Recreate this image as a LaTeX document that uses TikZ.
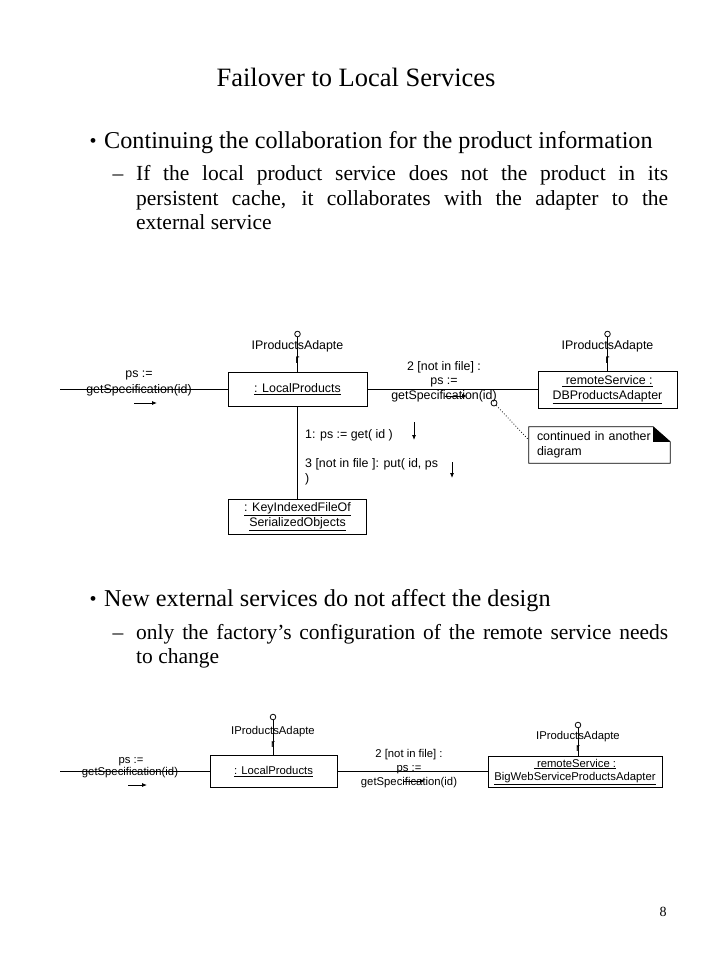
\documentclass[tikz,border=0pt]{standalone}
\usepackage{fontspec}
\setmainfont{Liberation Serif}
\newfontfamily\arialf{Liberation Sans}
\usetikzlibrary{arrows.meta}
\newcommand{\dAf}{\arialf\fontsize{12.4}{15}\selectfont}
\newcommand{\dBf}{\arialf\fontsize{11.3}{13.5}\selectfont}
\begin{document}
\begin{tikzpicture}[x=1pt,y=-1pt,
  ttl/.style={font=\fontsize{26.5}{30}\selectfont, inner sep=0pt, anchor=base},
  bul/.style={font=\fontsize{24.2}{28}\selectfont, inner sep=0pt, anchor=base west},
  bdot/.style={font=\fontsize{20}{24}\selectfont, inner sep=0pt, anchor=base},
  sub/.style={font=\fontsize{21.5}{24}\selectfont, inner sep=0pt, anchor=base west},
  dA/.style={font=\dAf, inner sep=0pt, anchor=base},
  dAw/.style={font=\dAf, inner sep=0pt, anchor=base west},
  dB/.style={font=\dBf, inner sep=0pt, anchor=base},
  umlbox/.style={draw, line width=0.8pt, inner sep=0pt, align=center},
  conn/.style={line width=0.8pt},
  msg/.style={line width=0.8pt, -{Latex[length=5pt,width=4pt]}},
  lolli/.style={draw, circle, line width=0.8pt, minimum size=5.6pt, inner sep=0pt}]
\useasboundingbox (0,0) rectangle (720,960);
\fill[white] (0,0) rectangle (720,960);

% ---------- text ----------
\node[ttl] (title) at (356,87) {Failover to Local Services};
\node[bdot] (b1) at (93,148) {•};
\node[bul] (t1) at (104,149) {Continuing the collaboration for the product information};
\node[font=\fontsize{21.5}{24}\selectfont, inner sep=0pt, anchor=base] (d1) at (118,181) {–};
\node[sub] (s1a) at (136,181) {\makebox[532pt][s]{If the local product service does not the product in its}};
\node[sub] (s1b) at (136,205) {\makebox[532pt][s]{persistent cache, it collaborates with the adapter to the}};
\node[sub] (s1c) at (136,229) {external service};

\node[bdot] (b2) at (93,605) {•};
\node[bul] (t2) at (104,606) {New external services do not affect the design};
\node[font=\fontsize{21.5}{24}\selectfont, inner sep=0pt, anchor=base] (d2) at (118,639) {–};
\node[sub] (s2a) at (136,639) {\makebox[532pt][s]{only the factory’s configuration of the remote service needs}};
\node[sub] (s2b) at (136,663) {to change};

\node[font=\fontsize{14}{16}\selectfont, inner sep=0pt, anchor=base] (pg) at (663,916) {8};

% ---------- diagram 1 ----------
\node[umlbox, font=\dAf, minimum width=139pt, minimum height=34pt] (lp1) at (297.5,389) {\underline{: LocalProducts}};
\node[umlbox, font=\dAf, minimum width=139pt, minimum height=37pt] (rs1) at (607.5,389.5) {\underline{ remoteService :}\\\underline{DBProductsAdapter}};
\node[umlbox, font=\dAf, minimum width=138pt, minimum height=35pt] (kf1) at (297.5,516.5) {\underline{: KeyIndexedFileOf}\\\underline{SerializedObjects}};

% interfaces
\node[lolli] (i1) at (297.5,334) {};
\node[dA] (i1t) at (297.5,349.5) {IProductsAdapte};
\node[dA] (i1r) at (297.5,363) {r};
\draw[conn] (i1.south) -- (i1.south |- lp1.north);
\node[lolli] (i2) at (607.5,334) {};
\node[dA] (i2t) at (607.5,349.5) {IProductsAdapte};
\node[dA] (i2r) at (607.5,363) {r};
\draw[conn] (i2.south) -- (i2.south |- rs1.north);

% incoming message
\coordinate (e1) at (60,389);
\draw[conn] (e1) -- (lp1.west);
\node[dA] (m0a) at (139,377.5) {ps :=};
\node[dA] (m0b) at (139,393.5) {getSpecification(id)};
\coordinate (a0s) at (134,403);
\coordinate (a0e) at (157,403);
\draw[msg] (a0s) -- (a0e);

% message 2
\draw[conn] (lp1.east) -- (lp1.east -| rs1.west);
\node[dA] (m2a) at (444,370.5) {2 [not in file] :};
\node[dA] (m2b) at (444,384.5) {ps :=};
\node[dA] (m2c) at (444,399.5) {getSpecification(id)};
\coordinate (a2s) at (445,396);
\coordinate (a2e) at (467,396);
\draw[msg] (a2s) -- (a2e);

% note
\node[lolli, minimum size=6pt] (nc) at (494,403) {};
\node[font=\dAf, inner xsep=8pt, inner ysep=2pt, text width=125pt, align=left, minimum height=36pt] (note) at (599.5,445) {continued in another\\diagram};
\draw[conn] (note.north west) -- ([xshift=-17pt]note.north east) -- ([yshift=-15pt]note.north east) -- (note.south east) -- (note.south west) -- cycle;
\fill ([xshift=-17pt]note.north east) -- ([yshift=-15pt]note.north east) -- ([xshift=-17pt,yshift=-15pt]note.north east) -- cycle;
\draw[dotted, line width=0.8pt] (nc) -- ([yshift=5pt]note.west);

% messages 1 and 3
\draw[conn] (lp1.south) -- (lp1.south |- kf1.north);
\node[dAw] (m1) at (305,438.5) {1: ps := get( id )};
\coordinate (a1s) at (414,422);
\coordinate (a1e) at (414,440);
\draw[msg] (a1s) -- (a1e);
\node[dAw] (m3a) at (305,467.5) {3 [not in file ]: put( id, ps};
\node[dAw] (m3b) at (305,482.5) {)};
\coordinate (a3s) at (452,462);
\coordinate (a3e) at (452,478);
\draw[msg] (a3s) -- (a3e);

% ---------- diagram 2 ----------
\node[umlbox, font=\dBf, minimum width=127pt, minimum height=32pt] (lp2) at (273.5,771.5) {\underline{: LocalProducts}};
\node[umlbox, font=\dBf, minimum width=174pt, minimum height=31pt] (rs2) at (575,772) {\underline{ remoteService :}\\\underline{BigWebServiceProductsAdapter}};

\node[lolli] (j1) at (273,717) {};
\node[dB] (j1t) at (273,734) {IProductsAdapte};
\node[dB] (j1r) at (273,747) {r};
\draw[conn] (j1.south) -- (j1.south |- lp2.north);
\node[lolli] (j2) at (578,725) {};
\node[dB] (j2t) at (578,739) {IProductsAdapte};
\node[dB] (j2r) at (578,751) {r};
\draw[conn] (j2.south) -- (j2.south |- rs2.north);

\coordinate (e2) at (60,771);
\draw[conn] (e2) -- (e2 -| lp2.west);
\node[dB] (n0a) at (131,763) {ps :=};
\node[dB] (n0b) at (130,775) {getSpecification(id)};
\coordinate (b0s) at (128,785);
\coordinate (b0e) at (147,785);
\draw[msg] (b0s) -- (b0e);

\draw[conn] (lp2.east |- e2) -- (rs2.west |- e2);
\node[dB] (n2a) at (409,757) {2 [not in file] :};
\node[dB] (n2b) at (409,771) {ps :=};
\node[dB] (n2c) at (409,785) {getSpecification(id)};
\coordinate (b2s) at (404,781);
\coordinate (b2e) at (425,781);
\draw[msg] (b2s) -- (b2e);
\end{tikzpicture}
\end{document}
